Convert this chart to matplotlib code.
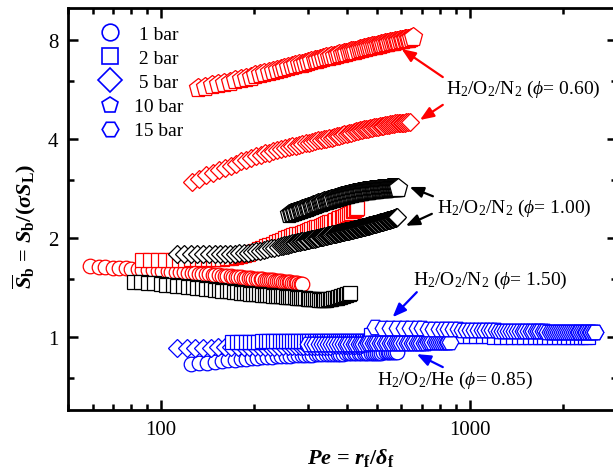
import matplotlib
matplotlib.use('Agg')
import matplotlib.pyplot as plt
from matplotlib.lines import Line2D
from matplotlib.ticker import FixedLocator, NullFormatter, LogLocator

plt.rcParams['font.family'] = ['Liberation Serif', 'DejaVu Serif']
plt.rcParams['mathtext.fontset'] = 'custom'
plt.rcParams['mathtext.rm'] = 'Liberation Serif'
plt.rcParams['mathtext.it'] = 'Liberation Serif:italic'
plt.rcParams['mathtext.bf'] = 'Liberation Serif:bold'
plt.rcParams['mathtext.bfit'] = 'Liberation Serif:italic:bold'

# H2/O2/N2, phi = 0.60
red_1bar_x = [59, 63, 66, 70, 73, 77, 80, 84, 87, 91, 94, 98, 101, 105, 108, 112, 115, 119, 122, 126, 129,
              133, 136, 140, 143, 147, 150, 154, 157, 161, 164, 168, 171, 175, 178, 182, 185, 189, 192,
              196, 199, 203, 206, 210, 213, 217, 220, 224, 227, 231, 234, 238, 241, 245, 248, 252, 255,
              259, 262, 266, 269, 273, 276, 280, 283, 285]
red_1bar_y = [1.640, 1.635, 1.631, 1.626, 1.622, 1.617, 1.613, 1.608, 1.604, 1.600, 1.597, 1.593, 1.590,
              1.586, 1.583, 1.580, 1.577, 1.573, 1.571, 1.567, 1.564, 1.561, 1.558, 1.554, 1.552, 1.548,
              1.545, 1.542, 1.539, 1.536, 1.534, 1.531, 1.528, 1.525, 1.523, 1.520, 1.517, 1.514, 1.512,
              1.509, 1.506, 1.504, 1.502, 1.500, 1.498, 1.495, 1.493, 1.491, 1.489, 1.487, 1.485, 1.482,
              1.481, 1.478, 1.476, 1.474, 1.472, 1.469, 1.467, 1.464, 1.462, 1.459, 1.457, 1.454, 1.452,
              1.450]

red_2bar_x = [87, 92, 98, 103, 109, 114, 120, 125, 131, 136, 142, 147, 153, 158, 164, 169, 175, 180, 186,
              191, 197, 202, 208, 213, 219, 224, 230, 235, 241, 246, 252, 257, 263, 268, 274, 279, 285,
              290, 296, 301, 307, 312, 318, 323, 329, 334, 340, 345, 351, 356, 362, 367, 373, 378, 384,
              389, 395, 400, 406, 411, 417, 422, 427, 430]
red_2bar_y = [1.720, 1.720, 1.720, 1.720, 1.720, 1.720, 1.721, 1.722, 1.723, 1.724, 1.726, 1.728, 1.730,
              1.733, 1.737, 1.742, 1.750, 1.760, 1.775, 1.790, 1.810, 1.830, 1.850, 1.870, 1.890, 1.905,
              1.925, 1.940, 1.960, 1.980, 2.000, 2.012, 2.025, 2.038, 2.052, 2.064, 2.078, 2.090, 2.104,
              2.116, 2.130, 2.142, 2.156, 2.168, 2.182, 2.194, 2.208, 2.220, 2.234, 2.246, 2.260, 2.272,
              2.286, 2.298, 2.312, 2.324, 2.338, 2.350, 2.370, 2.390, 2.410, 2.430, 2.450, 2.470]

red_5bar_x = [126, 133, 140, 147, 154, 161, 168, 175, 182, 189, 196, 203, 210, 217, 224, 231, 238, 245,
              252, 259, 266, 273, 280, 287, 294, 301, 308, 315, 322, 329, 336, 343, 350, 357, 364, 371,
              378, 385, 392, 399, 406, 413, 420, 427, 434, 441, 448, 455, 462, 469, 476, 483, 490, 497,
              504, 511, 518, 525, 532, 539, 546, 553, 560, 567, 574, 581, 588, 595, 602, 609, 616, 623,
              630, 638]
red_5bar_y = [2.96, 3.03, 3.10, 3.16, 3.22, 3.27, 3.32, 3.37, 3.42, 3.46, 3.51, 3.55, 3.58, 3.62, 3.64,
              3.67, 3.70, 3.73, 3.76, 3.78, 3.80, 3.82, 3.84, 3.86, 3.88, 3.90, 3.92, 3.94, 3.96, 3.97,
              3.99, 4.01, 4.02, 4.04, 4.06, 4.08, 4.09, 4.11, 4.13, 4.14, 4.16, 4.18, 4.20, 4.22, 4.23,
              4.25, 4.27, 4.28, 4.29, 4.30, 4.31, 4.32, 4.34, 4.35, 4.36, 4.37, 4.38, 4.39, 4.40, 4.41,
              4.42, 4.43, 4.44, 4.45, 4.46, 4.46, 4.47, 4.48, 4.48, 4.49, 4.49, 4.50, 4.50, 4.51]

red_10bar_x = [132, 139, 146, 153, 160, 167, 174, 181, 188, 195, 202, 209, 216, 223, 230, 237, 244, 251,
               258, 265, 272, 279, 286, 293, 300, 307, 314, 321, 328, 335, 342, 349, 356, 363, 370, 377,
               384, 391, 398, 405, 412, 419, 426, 433, 440, 447, 454, 461, 468, 475, 482, 489, 496, 503,
               510, 517, 524, 531, 538, 545, 552, 559, 566, 573, 580, 587, 594, 601, 608, 615, 622, 629,
               636, 643, 653]
red_10bar_y = [5.70, 5.76, 5.82, 5.88, 5.93, 5.98, 6.03, 6.08, 6.13, 6.19, 6.24, 6.29, 6.34, 6.38, 6.43,
               6.48, 6.52, 6.57, 6.61, 6.66, 6.70, 6.74, 6.78, 6.83, 6.87, 6.90, 6.94, 6.97, 7.01, 7.04,
               7.08, 7.11, 7.14, 7.17, 7.20, 7.23, 7.26, 7.29, 7.32, 7.35, 7.38, 7.40, 7.43, 7.46, 7.49,
               7.52, 7.55, 7.58, 7.60, 7.62, 7.65, 7.67, 7.69, 7.72, 7.74, 7.76, 7.79, 7.81, 7.83, 7.85,
               7.87, 7.89, 7.90, 7.92, 7.94, 7.96, 7.97, 7.99, 8.01, 8.03, 8.04, 8.06, 8.08, 8.11, 8.17]

# H2/O2/N2, phi = 1.00
blk_2bar_x = [82, 86, 91, 95, 100, 104, 109, 113, 118, 122, 127, 131, 136, 140, 145, 149, 154, 158, 163,
              167, 172, 176, 181, 185, 190, 194, 199, 203, 208, 212, 217, 221, 226, 230, 235, 239, 244,
              248, 253, 257, 262, 266, 271, 275, 280, 284, 289, 293, 298, 302, 307, 311, 316, 320, 325,
              329, 334, 338, 343, 347, 352, 356, 361, 365, 370, 374, 379, 383, 388, 392, 397, 401, 405,
              408]
blk_2bar_y = [1.470, 1.466, 1.461, 1.456, 1.450, 1.445, 1.440, 1.435, 1.429, 1.424, 1.418, 1.414, 1.408,
              1.403, 1.398, 1.394, 1.389, 1.385, 1.380, 1.377, 1.373, 1.370, 1.366, 1.363, 1.359, 1.356,
              1.353, 1.350, 1.348, 1.346, 1.344, 1.342, 1.340, 1.338, 1.336, 1.334, 1.332, 1.331, 1.329,
              1.327, 1.325, 1.323, 1.321, 1.319, 1.317, 1.315, 1.313, 1.312, 1.310, 1.308, 1.306, 1.305,
              1.303, 1.302, 1.300, 1.300, 1.300, 1.300, 1.301, 1.303, 1.305, 1.308, 1.311, 1.314, 1.318,
              1.321, 1.326, 1.330, 1.335, 1.340, 1.346, 1.351, 1.356, 1.360]

blk_5bar_x = [113, 119, 125, 131, 137, 143, 149, 155, 161, 167, 173, 179, 185, 191, 197, 203, 209, 215,
              221, 227, 233, 239, 245,
              248, 251, 254, 257, 260, 263, 266, 269, 272, 275, 278, 281, 284, 287, 290, 293, 296, 299,
              302, 305, 308, 311, 314, 317, 320, 323, 326, 329, 332, 335, 338, 341, 344, 347, 350, 353,
              356, 359, 362, 365, 368, 371, 374, 377, 380, 383, 386, 389, 392, 395, 398, 401, 404, 407,
              410, 413, 416, 419, 422, 425, 428, 431, 434, 437, 440, 443, 446, 449, 452, 455, 458, 461,
              464, 467, 470, 473, 476, 479, 482, 485, 488, 491, 494, 497, 500, 503, 506, 509, 512, 515,
              518, 521, 524, 527, 530, 533, 536, 539, 542, 545, 548, 551, 554, 557, 560, 563, 566, 569,
              572, 575, 578, 580]
blk_5bar_y = [1.790, 1.790, 1.790, 1.790, 1.790, 1.790, 1.790, 1.791, 1.792, 1.793, 1.795, 1.798, 1.802,
              1.808, 1.815, 1.823, 1.832, 1.842, 1.852, 1.862, 1.872, 1.882, 1.892,
              1.897, 1.902, 1.907, 1.912, 1.917, 1.922, 1.927, 1.932, 1.937, 1.942, 1.946, 1.950, 1.954,
              1.958, 1.962, 1.966, 1.970, 1.974, 1.978, 1.982, 1.986, 1.990, 1.994, 1.998, 2.002, 2.006,
              2.010, 2.014, 2.018, 2.022, 2.026, 2.030, 2.034, 2.038, 2.042, 2.046, 2.050, 2.053, 2.057,
              2.060, 2.064, 2.067, 2.071, 2.074, 2.078, 2.081, 2.085, 2.088, 2.092, 2.095, 2.099, 2.102,
              2.106, 2.109, 2.113, 2.116, 2.120, 2.123, 2.127, 2.130, 2.134, 2.137, 2.141, 2.144, 2.148,
              2.151, 2.155, 2.158, 2.162, 2.165, 2.169, 2.172, 2.176, 2.179, 2.183, 2.186, 2.190, 2.193,
              2.197, 2.200, 2.204, 2.207, 2.211, 2.214, 2.218, 2.221, 2.225, 2.228, 2.232, 2.235, 2.239,
              2.242, 2.246, 2.249, 2.253, 2.256, 2.260, 2.263, 2.267, 2.270, 2.274, 2.277, 2.281, 2.284,
              2.288, 2.291, 2.295, 2.298, 2.302, 2.306, 2.311, 2.315]

blk_10bar_x = [260, 263, 266, 269, 272, 275, 278, 281, 284, 287, 290, 293, 296, 299, 302, 305, 308, 311,
               314, 317, 320, 323, 326, 329, 332, 335, 338, 341, 344, 347, 350, 353, 356, 359, 362, 365,
               368, 371, 374, 377, 380, 383, 386, 389, 392, 395, 398, 401, 404, 407, 410, 413, 416, 419,
               422, 425, 428, 431, 434, 437, 440, 443, 446, 449, 452, 455, 458, 461, 464, 467, 470, 473,
               476, 479, 482, 485, 488, 491, 494, 497, 500, 503, 506, 509, 512, 515, 518, 521, 524, 527,
               530, 533, 536, 539, 542, 545, 548, 551, 554, 557, 560, 563, 566, 569, 572, 575, 578, 581,
               583]
blk_10bar_y = [2.370, 2.379, 2.388, 2.397, 2.406, 2.415, 2.424, 2.433, 2.442, 2.451, 2.460, 2.468, 2.477,
               2.485, 2.494, 2.502, 2.510, 2.518, 2.525, 2.533, 2.541, 2.548, 2.556, 2.563, 2.571, 2.578,
               2.585, 2.592, 2.598, 2.605, 2.612, 2.618, 2.625, 2.631, 2.638, 2.644, 2.650, 2.656, 2.661,
               2.667, 2.673, 2.678, 2.683, 2.689, 2.694, 2.699, 2.704, 2.708, 2.713, 2.717, 2.722, 2.726,
               2.730, 2.734, 2.738, 2.742, 2.746, 2.749, 2.753, 2.756, 2.760, 2.763, 2.766, 2.769, 2.772,
               2.775, 2.778, 2.780, 2.783, 2.785, 2.788, 2.790, 2.793, 2.795, 2.798, 2.800, 2.802, 2.804,
               2.805, 2.807, 2.809, 2.811, 2.813, 2.814, 2.816, 2.818, 2.819, 2.821, 2.822, 2.824, 2.825,
               2.826, 2.827, 2.829, 2.830, 2.831, 2.832, 2.833, 2.835, 2.836, 2.837, 2.838, 2.839, 2.840,
               2.842, 2.843, 2.844, 2.845, 2.846]

# H2/O2/N2, phi = 1.50 and H2/O2/He, phi = 0.85
blu_1bar_x = [125, 133, 141, 149, 157, 165, 173, 181, 189, 197, 205, 213, 221, 229, 237, 245, 253, 261,
              269, 277, 285, 293, 301, 309, 317, 325, 333, 341, 349, 357, 365, 373, 381, 389, 397, 405,
              413, 421, 429, 437, 445, 453, 461, 469, 477, 485, 493, 501, 509, 517, 525, 533, 541, 549,
              557, 565, 573, 580]
blu_1bar_y = [0.827, 0.832, 0.837, 0.842, 0.846, 0.850, 0.854, 0.857, 0.860, 0.863, 0.866, 0.868, 0.870,
              0.872, 0.874, 0.876, 0.877, 0.879, 0.880, 0.881, 0.882, 0.883, 0.884, 0.885, 0.886, 0.887,
              0.888, 0.888, 0.889, 0.889, 0.890, 0.890, 0.891, 0.891, 0.892, 0.892, 0.893, 0.893, 0.894,
              0.894, 0.895, 0.895, 0.896, 0.896, 0.897, 0.897, 0.897, 0.898, 0.898, 0.898, 0.899, 0.899,
              0.899, 0.900, 0.900, 0.900, 0.900, 0.900]

blu_5bar_x = [113, 121, 129, 137, 145, 153, 161, 169, 177, 185, 193, 201, 209, 217, 225, 233, 241, 249,
              257, 265, 273, 281, 289, 297, 305, 313, 321, 329, 337, 345, 353, 361, 369, 377, 385, 393,
              401, 409, 417, 425, 433, 441, 449]
blu_5bar_y = [0.930, 0.930, 0.930, 0.930, 0.930, 0.931, 0.931, 0.932, 0.932, 0.933, 0.933, 0.934, 0.934,
              0.935, 0.935, 0.936, 0.936, 0.937, 0.937, 0.938, 0.938, 0.939, 0.939, 0.940, 0.940, 0.941,
              0.941, 0.942, 0.942, 0.943, 0.943, 0.944, 0.944, 0.945, 0.945, 0.946, 0.946, 0.947, 0.947,
              0.948, 0.948, 0.949, 0.950]

blu_2bar_x = [170, 176, 182, 188, 194, 200, 206, 212, 218, 224, 230, 236, 242, 248, 254, 260, 266, 272,
              278, 284, 290, 296, 302, 308, 314, 320, 326, 332, 338, 344, 350, 356, 362, 368, 374, 380,
              386, 392, 398, 404, 410, 416, 422, 428, 434, 440, 446, 452, 458, 464, 470, 476]
blu_2bar_y = [0.970, 0.970, 0.970, 0.970, 0.970, 0.970, 0.970, 0.971, 0.971, 0.971, 0.971, 0.971, 0.971,
              0.972, 0.972, 0.972, 0.972, 0.972, 0.972, 0.972, 0.973, 0.973, 0.973, 0.973, 0.973, 0.973,
              0.973, 0.974, 0.974, 0.974, 0.974, 0.974, 0.974, 0.974, 0.975, 0.975, 0.975, 0.975, 0.975,
              0.975, 0.975, 0.975, 0.975, 0.975, 0.975, 0.975, 0.975, 0.975, 0.975, 0.975, 0.975, 0.975]

blu_10bar_x = [480, 520, 560, 600, 640, 680, 720, 760, 800, 850, 900, 950, 1000, 1050, 1100, 1150, 1200,
               1260, 1320, 1380, 1440, 1500, 1560, 1620, 1680, 1740, 1800, 1870, 1940, 2010, 2080, 2150,
               2220, 2290, 2360, 2413]
blu_10bar_y = [1.014, 1.013, 1.012, 1.011, 1.010, 1.010, 1.009, 1.009, 1.008, 1.008, 1.007, 1.007, 1.006,
               1.006, 1.005, 1.005, 1.004, 1.004, 1.004, 1.003, 1.003, 1.003, 1.002, 1.002, 1.002, 1.001,
               1.001, 1.001, 1.000, 1.000, 1.000, 0.999, 0.999, 0.999, 0.998, 0.998]

he_15bar_x = [300, 308, 316, 324, 332, 340, 348, 356, 364, 372, 380, 388, 396, 404, 412, 420, 428, 436,
              444, 452, 460, 468, 476, 484, 492, 500, 510, 520, 530, 540, 550, 560, 570, 580, 590, 600,
              612, 624, 636, 648, 660, 672, 684, 696, 708, 720, 732, 744, 756, 768, 780, 792, 804, 816,
              828, 840, 852, 861]
he_15bar_y = [0.950, 0.950, 0.950, 0.951, 0.951, 0.951, 0.952, 0.952, 0.952, 0.953, 0.953, 0.953, 0.954,
              0.954, 0.954, 0.955, 0.955, 0.955, 0.956, 0.956, 0.956, 0.957, 0.957, 0.957, 0.957, 0.958,
              0.958, 0.958, 0.958, 0.959, 0.959, 0.959, 0.959, 0.960, 0.960, 0.960, 0.961, 0.961, 0.961,
              0.962, 0.962, 0.962, 0.963, 0.963, 0.963, 0.963, 0.964, 0.964, 0.964, 0.964, 0.965, 0.965,
              0.965, 0.965, 0.965, 0.966, 0.966, 0.966]

blu_15bar_x = [492, 522, 552, 582, 612, 642, 672, 702, 732, 762, 792, 822, 852, 882, 912, 942, 972, 1002,
               1032, 1062, 1092, 1122, 1152, 1182, 1212, 1242, 1272, 1302, 1332, 1362, 1392, 1422, 1452,
               1482, 1512, 1542, 1572, 1602, 1632, 1662, 1692, 1722, 1752, 1782, 1812, 1842, 1872, 1902,
               1932, 1962, 1992, 2022, 2052, 2082, 2112, 2142, 2172, 2202, 2232, 2262, 2292, 2322, 2352,
               2382, 2412, 2442, 2472, 2502, 2532, 2547]
blu_15bar_y = [1.070, 1.069, 1.068, 1.067, 1.066, 1.065, 1.064, 1.063, 1.062, 1.061, 1.060, 1.059, 1.058,
               1.057, 1.056, 1.055, 1.054, 1.052, 1.051, 1.050, 1.050, 1.049, 1.049, 1.048, 1.048, 1.047,
               1.047, 1.046, 1.046, 1.045, 1.045, 1.044, 1.044, 1.044, 1.043, 1.043, 1.043, 1.042, 1.042,
               1.042, 1.041, 1.041, 1.041, 1.040, 1.040, 1.040, 1.040, 1.039, 1.039, 1.039, 1.039, 1.038,
               1.038, 1.038, 1.038, 1.038, 1.037, 1.037, 1.037, 1.037, 1.037, 1.037, 1.036, 1.036, 1.036,
               1.036, 1.036, 1.036, 1.036, 1.036]

pressures = [' 1 bar', ' 2 bar', ' 5 bar', '10 bar', '15 bar']
markers = ['o', 's', 'D', 'p', 'H']
msizes = [10.5, 10, 8.8, 14, 12]

series = [
    (red_1bar_x, red_1bar_y, 'red', 0),
    (red_2bar_x, red_2bar_y, 'red', 1),
    (red_5bar_x, red_5bar_y, 'red', 2),
    (red_10bar_x, red_10bar_y, 'red', 3),
    (blk_2bar_x, blk_2bar_y, 'black', 1),
    (blk_5bar_x, blk_5bar_y, 'black', 2),
    (blk_10bar_x, blk_10bar_y, 'black', 3),
    (blu_1bar_x, blu_1bar_y, 'blue', 0),
    (blu_5bar_x, blu_5bar_y, 'blue', 2),
    (blu_2bar_x, blu_2bar_y, 'blue', 1),
    (blu_10bar_x, blu_10bar_y, 'blue', 1),
    (he_15bar_x, he_15bar_y, 'blue', 4),
    (blu_15bar_x, blu_15bar_y, 'blue', 4),
]

fig = plt.figure(figsize=(6.13, 4.77), dpi=100)
ax = fig.add_axes([0.111, 0.138, 0.896, 0.843])

for x, y, c, k in series:
    ax.plot(x, y, ls='none', marker=markers[k], ms=msizes[k], mfc='white', mec=c, mew=0.9)

ax.set_xscale('log')
ax.set_yscale('log')
ax.set_xlim(50, 3000)
ax.set_ylim(0.6, 10)

ax.xaxis.set_major_locator(FixedLocator([100, 1000]))
ax.xaxis.set_minor_locator(LogLocator(base=10, subs=[2, 3, 4, 5, 6, 7, 8, 9]))
ax.xaxis.set_major_formatter(plt.FuncFormatter(lambda v, p: '%d' % v))
ax.xaxis.set_minor_formatter(NullFormatter())
ax.yaxis.set_major_locator(FixedLocator([1, 2, 4, 8]))
ax.yaxis.set_minor_locator(FixedLocator([0.75, 1.5, 3, 6]))
ax.yaxis.set_major_formatter(plt.FuncFormatter(lambda v, p: '%d' % v))
ax.yaxis.set_minor_formatter(NullFormatter())

for s in ax.spines.values():
    s.set_linewidth(2)
ax.tick_params(which='both', direction='in', top=True, right=True, width=1.8, labelsize=15)
ax.tick_params(which='major', length=7, pad=7)
ax.tick_params(which='minor', length=4.5)

ax.set_xlabel(r'$\mathbfit{Pe}\mathbf{\,=\,}\mathbfit{r}_\mathbf{f}\mathbf{/}\mathbfit{\delta}_\mathbf{f}$',
              fontsize=16)
ax.set_ylabel(r'$\overline{\mathbfit{S}}_\mathbf{b}\mathbf{\,=\,}\mathbfit{S}_\mathbf{b}\mathbf{/(}'
              r'\mathbfit{\sigma S}_\mathbf{L}\mathbf{)}$', fontsize=16)
ax.xaxis.set_label_coords(0.515, -0.09)
ax.yaxis.set_label_coords(-0.055, 0.46)

handles = [Line2D([], [], ls='none', marker=m, ms=12, mfc='white', mec='blue', mew=1.2) for m in markers]
ax.legend(handles, pressures, loc='upper left', bbox_to_anchor=(0.026, 0.995), frameon=False, fontsize=14,
          handlelength=1.2, handletextpad=0.65, labelspacing=0.33, borderpad=0.3)


def arrow(tail, head, c):
    ax.annotate('', xy=head, xytext=tail,
                arrowprops=dict(arrowstyle='-|>,head_length=0.55,head_width=0.22', color=c, lw=1.6,
                                mutation_scale=15, shrinkA=0, shrinkB=0))


arrow((817, 6.17), (601, 7.51), 'red')
arrow((817, 5.08), (689, 4.57), 'red')
ax.text(836, 5.68, r'H$_2$/O$_2$/N$_2$ ($\phi$= 0.60)', fontsize=14, va='center', ha='left')

arrow((759, 2.68), (638, 2.86), 'black')
arrow((753, 2.37), (620, 2.18), 'black')
ax.text(781, 2.47, r'H$_2$/O$_2$/N$_2$ ($\phi$= 1.00)', fontsize=14, va='center', ha='left')

arrow((673, 1.37), (562, 1.15), 'blue')
ax.text(653, 1.50, r'H$_2$/O$_2$/N$_2$ ($\phi$= 1.50)', fontsize=14, va='center', ha='left')

arrow((817, 0.811), (673, 0.888), 'blue')
ax.text(499, 0.745, r'H$_2$/O$_2$/He ($\phi$= 0.85)', fontsize=14, va='center', ha='left')

fig.savefig('out.png', dpi=100)
